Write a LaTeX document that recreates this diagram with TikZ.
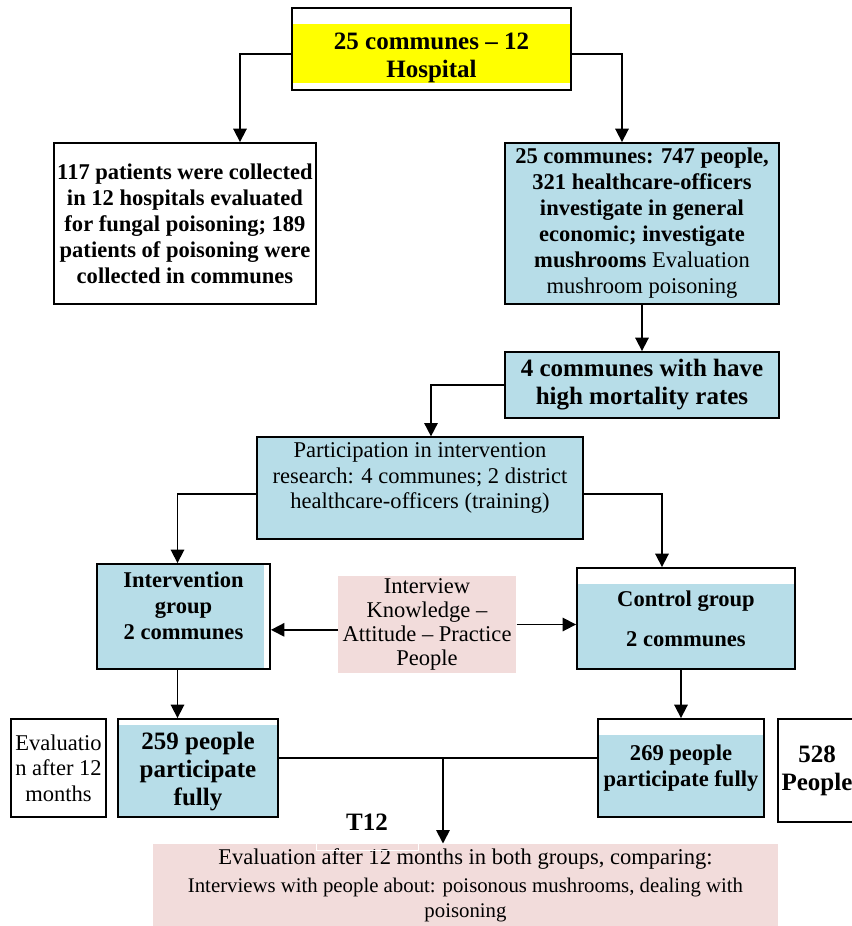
\documentclass[tikz,border=0pt]{standalone}
\usepackage{fontspec}
\setmainfont{Liberation Serif}
\usetikzlibrary{arrows.meta,calc,backgrounds}

\definecolor{boxblue}{RGB}{183,221,232}
\definecolor{boxpink}{RGB}{242,220,219}
\definecolor{boxyellow}{RGB}{255,255,0}

\newcommand{\normtxt}{\fontsize{16.9pt}{19pt}\selectfont}
\newcommand{\boldtxt}{\fontsize{16.9pt}{19.5pt}\selectfont\bfseries}
\newcommand{\bigtxt}{\fontsize{18.75pt}{21pt}\selectfont\bfseries}

\tikzset{every picture/.style={line width=0.75pt}}
\tikzset{
  frame/.style={draw, line width=1.4pt, inner sep=1pt, align=center},
  plain/.style={inner sep=1pt, align=center},
  arr/.style={-{Triangle[length=10pt,width=10pt]}, line width=1.3pt},
}

\begin{document}
\begin{tikzpicture}[x=0.75pt,y=0.75pt,yscale=-1,xscale=1]
\useasboundingbox (0,0) rectangle (852,926);
\clip (0,0) rectangle (852,926);

%Shape: Box [top]
\node[frame, minimum width=209.25pt, minimum height=61.5pt] (top) at (431.5,49) {};
% Text Node
\node[plain, font=\bigtxt] (top-t) at (431.5,58) {25 communes -- 12\\Hospital};
%Shape: Box [patients]
\node[frame, minimum width=196.5pt, minimum height=120.75pt, font=\boldtxt] (patients) at (185,223.5) {117 patients were collected\\in 12 hospitals evaluated\\for fungal poisoning; 189\\patients of poisoning were\\collected in communes};
%Shape: Box [people]
\node[frame, fill=boxblue, minimum width=205.5pt, minimum height=120.75pt, font=\fontsize{16.9pt}{19.5pt}\selectfont] (people) at (642,223.5) {\textbf{25 communes: 747 people,}\\\textbf{321 healthcare-officers}\\\textbf{investigate in general}\\\textbf{economic; investigate}\\\textbf{mushrooms} Evaluation\\mushroom poisoning};
%Shape: Box [high mortality]
\node[frame, fill=boxblue, minimum width=205.5pt, minimum height=49.5pt, font=\bigtxt] (hm) at (642,385) {4 communes with have\\high mortality rates};
%Shape: Box [participation]
\node[frame, fill=boxblue, line width=0.9pt, minimum width=244.5pt, minimum height=76.5pt] (part) at (420,488) {};
% Text Node
\node[plain, font=\normtxt] (part-t) at (420,478) {Participation in intervention\\research: 4 communes; 2 district\\healthcare-officers (training)};
%Shape: Box [intervention]
\node[frame, minimum width=129.75pt, minimum height=78.75pt] (interv) at (183.5,616.5) {};
% Text Node
\node[plain, font=\boldtxt] (interv-t) at (183.5,606) {Intervention\\group\\2 communes};
%Shape: Box [interview]
\node[plain, fill=boxpink, minimum width=133.5pt, minimum height=72.75pt, font=\fontsize{16.9pt}{18pt}\selectfont] (kap) at (427,624.5) {Interview\\Knowledge --\\Attitude -- Practice\\People};
%Shape: Box [control]
\node[frame, minimum width=163.5pt, minimum height=75.75pt, font=\boldtxt] (ctrl) at (686,618.5) {Control group\\[10.5pt]2 communes};
%Shape: Box [evaluation]
\node[frame, minimum width=71.25pt, minimum height=73.5pt, font=\normtxt] (eval) at (58.5,768) {Evaluatio\\n after 12\\months};
%Shape: Box [259]
\node[frame, minimum width=120pt, minimum height=73.5pt, font=\bigtxt] (p259) at (198,768) {};
% Text Node
\node[plain, font=\bigtxt] (p259-t) at (198,772) {259 people\\participate\\fully};
%Shape: Box [269]
\node[frame, minimum width=124.5pt, minimum height=73.5pt, font=\boldtxt] (p269) at (681,768) {269 people\\participate fully};
%Shape: Box [528]
\node[frame, minimum width=58.5pt, minimum height=77.25pt, font=\bigtxt] (p528) at (817,770.5) {528\\People};
%Shape: Box [final]
\node[plain, fill=boxpink, minimum width=468.75pt, minimum height=62.25pt, font=\normtxt] (final) at (465.5,885.5) {Evaluation after 12 months in both groups, comparing:\\[2pt]{\fontsize{15.6pt}{19pt}\selectfont Interviews with people about: poisonous mushrooms, dealing with}\\{\fontsize{15.6pt}{19pt}\selectfont poisoning}};
\draw[white] (316,832) rectangle (418,850);
% Text Node
\node[plain, font=\bigtxt] (t12) at (367,822) {T12};

%Fills
\begin{scope}[on background layer]
\fill[boxyellow] ($(top.north west)+(0,17)$) rectangle ($(top.south east)+(0,-8)$);
\fill[boxblue] (interv.north west) rectangle ($(interv.south east)+(-7,0)$);
\fill[boxblue] ($(ctrl.north west)+(0,17)$) rectangle (ctrl.south east);
\fill[boxblue] ($(p259.north west)+(0,7)$) rectangle (p259.south east);
\fill[boxblue] ($(p269.north west)+(0,17)$) rectangle (p269.south east);
\end{scope}

%Lines
\draw[arr] ([yshift=3.75pt]top.west) -| ([xshift=41.25pt]patients.north);
\draw[arr] ([yshift=3.75pt]top.east) -| ([xshift=-15pt]people.north);
\draw[arr] (people.south) -- (hm.north);
\draw[arr] (hm.west) -| ([xshift=8.25pt]part.north);
\draw[arr] ([yshift=4.5pt]part.west) -| ($(interv.north)+(-6,0)$);
\draw[arr] ([yshift=4.5pt]part.east) -| ([xshift=-18pt]ctrl.north);
\draw[arr] ([yshift=4pt]kap.west) -- ([yshift=4pt]kap.west -| interv.east);
\draw[arr] (kap.east) -- (kap.east -| ctrl.west);
\draw[arr] ($(interv.south)+(-6,0)$) -- ($(interv.south |- p259.north)+(-6,0)$);
\draw[arr] (ctrl.south -| p269.north) -- (p269.north);
\draw[line width=1.3pt] ($(p259.east)+(0,-10)$) -- ($(p269.west)+(0,-10)$);
\coordinate (split) at ($(p259.east)!0.5!(p269.west)+(5,-10)$);
\draw[arr] (split) -- (split |- final.north);

\end{tikzpicture}
\end{document}
